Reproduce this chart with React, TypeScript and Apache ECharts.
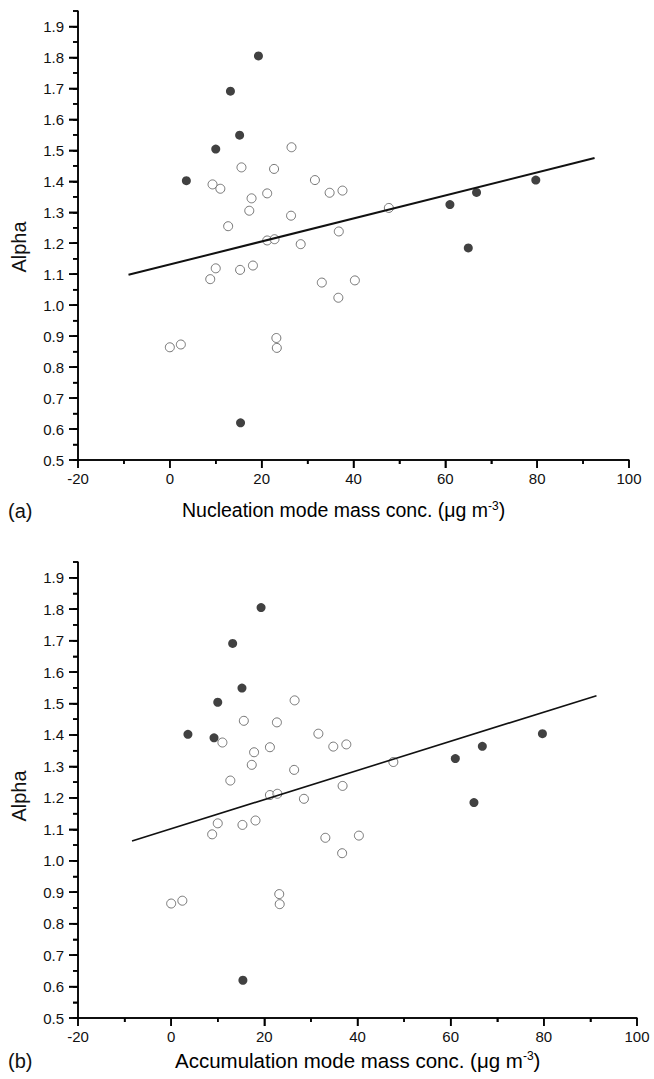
import React, { useEffect, useRef } from "react";
import * as echarts from "echarts";

// ---- data ----
const openA: number[][] = [
  [9.3, 1.39], [11.0, 1.376], [15.6, 1.445], [17.8, 1.345], [17.3, 1.305],
  [12.7, 1.255], [21.2, 1.361], [22.7, 1.44], [26.5, 1.51], [26.4, 1.289],
  [31.6, 1.404], [34.8, 1.363], [37.6, 1.37], [47.7, 1.314], [36.8, 1.238],
  [21.2, 1.209], [22.8, 1.213], [28.5, 1.197], [0, 0.864], [2.4, 0.873],
  [8.8, 1.084], [10.0, 1.119], [15.3, 1.114], [18.1, 1.128], [23.2, 0.894],
  [23.3, 0.862], [33.1, 1.073], [40.3, 1.08], [36.7, 1.024],
];
const filledA: number[][] = [
  [3.6, 1.402], [10.0, 1.504], [13.2, 1.691], [15.2, 1.549], [19.3, 1.805],
  [15.4, 0.62], [61.0, 1.325], [66.8, 1.364], [79.7, 1.404], [65.0, 1.185],
];
const fitA: number[][] = [[-9.0, 1.098], [92.5, 1.475]];

const openB: number[][] = [
  [11.0, 1.376], [15.6, 1.445], [17.8, 1.345], [17.3, 1.305],
  [12.7, 1.255], [21.2, 1.361], [22.7, 1.44], [26.5, 1.51], [26.4, 1.289],
  [31.6, 1.404], [34.8, 1.363], [37.6, 1.37], [47.7, 1.314], [36.8, 1.238],
  [21.2, 1.209], [22.8, 1.213], [28.5, 1.197], [0, 0.864], [2.4, 0.873],
  [8.8, 1.084], [10.0, 1.119], [15.3, 1.114], [18.1, 1.128], [23.2, 0.894],
  [23.3, 0.862], [33.1, 1.073], [40.3, 1.08], [36.7, 1.024],
];
const filledB: number[][] = [
  [3.6, 1.402], [9.2, 1.391], [10.0, 1.504], [13.2, 1.691], [15.2, 1.549],
  [19.3, 1.805], [15.4, 0.62], [61.0, 1.325], [66.8, 1.364], [79.7, 1.404],
  [65.0, 1.185],
];
const fitB: number[][] = [[-8.4, 1.063], [91.3, 1.525]];

// ---- tick values ----
const xMajor = [-20, 0, 20, 40, 60, 80, 100];
const xMinor = [-10, 10, 30, 50, 70, 90];
const yMajor = [0.5, 0.6, 0.7, 0.8, 0.9, 1.0, 1.1, 1.2, 1.3, 1.4, 1.5, 1.6, 1.7, 1.8, 1.9];
const yMinor = [0.55, 0.65, 0.75, 0.85, 0.95, 1.05, 1.15, 1.25, 1.35, 1.45, 1.55, 1.65, 1.75, 1.85, 1.95];
const xMin = -20, xMax = 100, xStep = 20;
const yMin = 0.5, yMax = 1.95;

const FONT = "Liberation Sans, Arial, Helvetica, sans-serif";

type GridBox = { left: number; top: number; width: number; height: number };

type PanelProps = {
  top: number;
  height: number;
  grid: GridBox;
  open: number[][];
  filled: number[][];
  fit: number[][];
  lineWidth: number;
  tag: string;
  title: string;
  titleX: number;
  titleSize: number;
  textY: number;
  alphaY: number;
};

// Layer 1: axes, tick labels and texts
function AxesLayer(p: PanelProps) {
  const ref = useRef<HTMLDivElement>(null);
  useEffect(() => {
    if (!ref.current) return;
    const chart = echarts.init(ref.current, undefined, { renderer: "svg" });
    const black = { color: "#000", width: 1.5 };
    chart.setOption({
      animation: false,
      grid: [p.grid],
      xAxis: [{
        type: "value", min: xMin, max: xMax, interval: xStep,
        axisLine: { show: true, onZero: false, lineStyle: black },
        axisTick: { show: true, length: 8, lineStyle: black },
        minorTick: { show: true, splitNumber: 2, length: 4, lineStyle: black },
        splitLine: { show: false },
        axisLabel: { color: "#111", fontSize: 15, fontFamily: FONT, margin: 11 },
      }],
      yAxis: [
        {
          type: "value", position: "left", min: yMin, max: yMax, interval: 0.05,
          axisLine: { show: true, onZero: false, lineStyle: black },
          axisTick: { show: true, length: 9, customValues: yMajor, lineStyle: black },
          splitLine: { show: false },
          axisLabel: { color: "#111", fontSize: 15, fontFamily: FONT, margin: 14, customValues: yMajor, formatter: (v: number) => v.toFixed(1) },
        },
        {
          type: "value", position: "left", min: yMin, max: yMax, interval: 0.05,
          axisLine: { show: false, onZero: false },
          axisTick: { show: true, length: 5, lineStyle: black },
          splitLine: { show: false },
          axisLabel: { show: false },
        },
      ],
      series: [],
    });

    // positions of the ticks through the chart's own scales
    const toPx = (x: number, y: number): number[] => {
      let r: any = null;
      try { r = chart.convertToPixel({ gridIndex: 0 } as any, [x, y]); } catch (e) { r = null; }
      if (!r || !isFinite(r[0]) || !isFinite(r[1])) {
        const g = p.grid;
        r = [g.left + ((x - xMin) / (xMax - xMin)) * g.width, g.top + g.height - ((y - yMin) / (yMax - yMin)) * g.height];
      }
      return r as number[];
    };
    const mk = (x1: number, y1: number, x2: number, y2: number) => ({
      type: "line", silent: true, z: 50,
      shape: { x1, y1, x2, y2 },
      style: { stroke: "#000", lineWidth: 1.5 },
    });
    const [ox, oy] = toPx(xMin, yMin);
    const ty = toPx(xMin, yMax)[1];
    const rx = toPx(xMax, yMin)[0];
    const lines: any[] = [mk(ox, oy + 0.75, ox, ty), mk(ox - 0.75, oy, rx, oy)];
    xMajor.forEach((v) => { const px = toPx(v, yMin)[0]; lines.push(mk(px, oy, px, oy + 8)); });
    xMinor.forEach((v) => { const px = toPx(v, yMin)[0]; lines.push(mk(px, oy, px, oy + 4)); });
    yMajor.forEach((v) => { const py = toPx(xMin, v)[1]; lines.push(mk(ox - 9, py, ox, py)); });
    yMinor.forEach((v) => { const py = toPx(xMin, v)[1]; lines.push(mk(ox - 5, py, ox, py)); });

    chart.setOption({
      graphic: [
        { type: "text", x: 19, y: p.alphaY, rotation: Math.PI / 2, style: { text: "Alpha", font: `20px ${FONT}`, fill: "#111", align: "center", verticalAlign: "middle" } },
        { type: "text", x: 8, y: p.textY + 1, style: { text: p.tag, font: `20px ${FONT}`, fill: "#111", align: "left", verticalAlign: "middle" } },
        {
          type: "text", x: p.titleX, y: p.textY,
          style: {
            text: `{n|${p.title} (μg m}{s|-3}{n|)}`,
            align: "left", verticalAlign: "middle",
            rich: {
              n: { fontSize: p.titleSize, fontFamily: FONT, color: "#111" },
              s: { fontSize: 12, fontFamily: FONT, color: "#111", verticalAlign: "top" },
            },
          },
        },
        ...lines,
      ],
    });
    return () => chart.dispose();
  }, []);
  return <div ref={ref} style={{ position: "absolute", left: 0, top: p.top, width: 654, height: p.height }} />;
}

// Layer 2: the marks, on the same scales (axes hidden)
function MarksLayer(p: PanelProps) {
  const ref = useRef<HTMLDivElement>(null);
  useEffect(() => {
    if (!ref.current) return;
    const chart = echarts.init(ref.current, undefined, { renderer: "svg" });
    chart.setOption({
      animation: false,
      backgroundColor: "transparent",
      grid: [p.grid],
      xAxis: [{ type: "value", show: false, min: xMin, max: xMax, interval: xStep, splitLine: { show: false } }],
      yAxis: [{ type: "value", show: false, min: yMin, max: yMax, interval: 0.05, splitLine: { show: false } }],
      series: [
        { type: "scatter", data: p.open, symbolSize: 9, itemStyle: { color: "#fff", borderColor: "#555", borderWidth: 1 } },
        { type: "scatter", data: p.filled, symbolSize: 9, itemStyle: { color: "#111" } },
        { type: "line", data: p.fit, showSymbol: false, lineStyle: { color: "#111", width: p.lineWidth }, z: 3 },
      ],
    });
    return () => chart.dispose();
  }, []);
  return <div ref={ref} style={{ position: "absolute", left: 0, top: p.top, width: 654, height: p.height, pointerEvents: "none" }} />;
}

const panelA: PanelProps = {
  top: 0, height: 540, grid: { left: 78, top: 11, width: 551, height: 449 },
  open: openA, filled: filledA, fit: fitA, lineWidth: 2,
  tag: "(a)", title: "Nucleation mode mass conc.", titleX: 182, titleSize: 19.5, textY: 510, alphaY: 247,
};
const panelB: PanelProps = {
  top: 540, height: 539, grid: { left: 78, top: 22, width: 559, height: 456 },
  open: openB, filled: filledB, fit: fitB, lineWidth: 1.6,
  tag: "(b)", title: "Accumulation mode mass conc.", titleX: 175, titleSize: 20.5, textY: 520, alphaY: 256,
};

export default function App() {
  return (
    <div style={{ position: "absolute", left: 0, top: 0, width: 654, height: 1079 }}>
      <AxesLayer {...panelA} />
      <AxesLayer {...panelB} />
      <MarksLayer {...panelA} />
      <MarksLayer {...panelB} />
    </div>
  );
}
